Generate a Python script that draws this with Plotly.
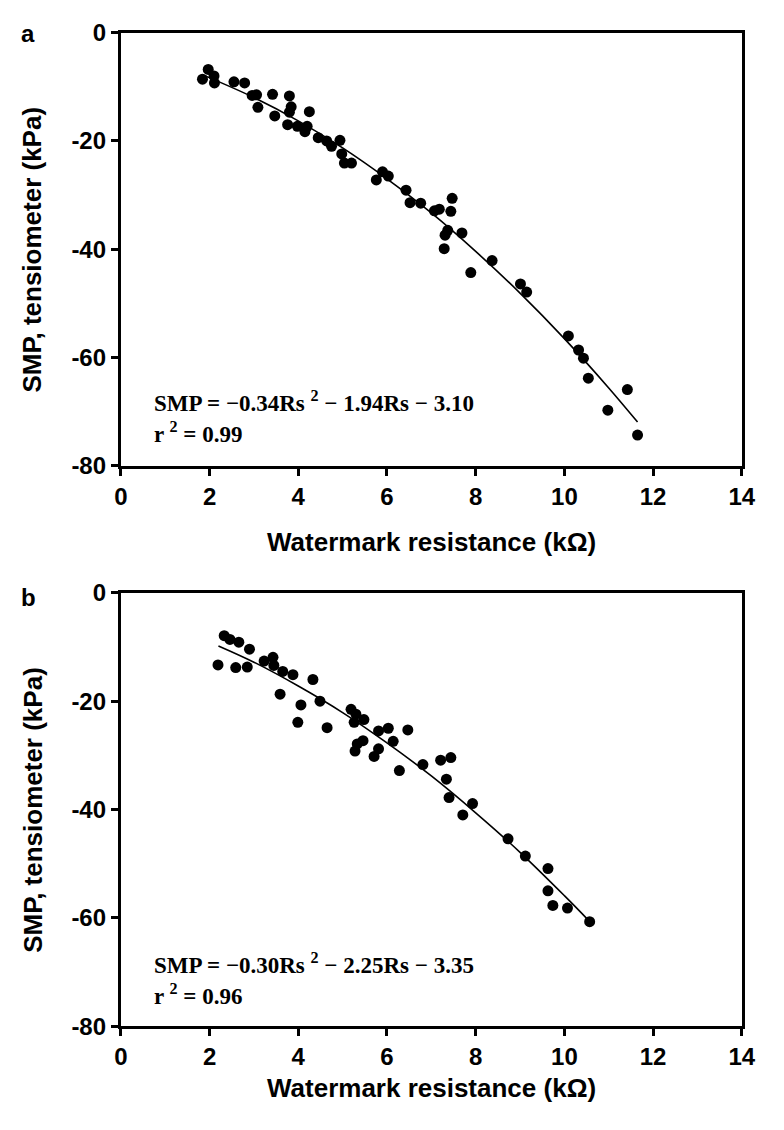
import plotly.graph_objects as go

# ---------------- data ----------------
# Panel a: observed points (Watermark resistance kOhm, SMP kPa)
a_rs = [1.97, 1.84, 2.10, 2.11, 2.55, 2.79, 2.96, 3.06, 3.09, 3.42, 3.47, 3.80, 3.84, 3.80,
        3.76, 4.25, 3.98, 4.20, 4.15, 4.45, 4.64, 4.75, 4.94, 4.98, 5.04, 5.20, 5.76, 5.90,
        6.03, 6.43, 6.52, 6.76, 7.07, 7.18, 7.47, 7.44, 7.37, 7.31, 7.69, 7.29, 7.89, 8.37,
        9.01, 9.15, 10.09, 10.32, 10.43, 10.54, 11.42, 10.98, 11.65]
a_smp = [-6.8, -8.6, -8.0, -9.3, -9.1, -9.3, -11.6, -11.5, -13.8, -11.4, -15.4, -11.7, -13.7, -14.7,
         -17.0, -14.6, -17.3, -17.3, -18.3, -19.4, -20.0, -21.0, -19.9, -22.4, -24.1, -24.1, -27.2, -25.7,
         -26.5, -29.1, -31.4, -31.5, -32.9, -32.6, -30.6, -33.0, -36.5, -37.4, -37.0, -39.9, -44.3, -42.1,
         -46.4, -47.9, -56.0, -58.6, -60.1, -63.8, -65.9, -69.7, -74.3]
# Panel a: fitted curve
a_fit_rs = [1.9, 3, 4, 5, 6, 7, 8, 9, 10, 11, 11.65]
a_fit_smp = [-8.0, -12.0, -16.3, -21.3, -27.0, -33.3, -40.4, -48.1, -56.5, -65.6, -71.9]

# Panel b: observed points
b_rs = [2.33, 2.46, 2.66, 2.90, 2.19, 2.59, 2.85, 3.23, 3.43, 3.45, 3.65, 3.88, 4.33, 3.59,
        4.49, 4.06, 3.99, 4.65, 5.19, 5.30, 5.26, 5.48, 5.81, 6.03, 6.47, 6.14, 5.46, 5.33,
        5.28, 5.81, 5.71, 6.28, 6.81, 7.21, 7.44, 7.34, 7.40, 7.71, 7.93, 8.73, 9.12, 9.63,
        9.63, 9.74, 10.07, 10.57]
b_smp = [-7.9, -8.6, -9.1, -10.4, -13.3, -13.8, -13.7, -12.6, -11.9, -13.4, -14.5, -15.1, -16.0, -18.7,
         -20.0, -20.7, -23.9, -24.9, -21.5, -22.4, -23.9, -23.4, -25.5, -25.0, -25.3, -27.4, -27.3, -27.9,
         -29.2, -28.8, -30.2, -32.8, -31.7, -30.9, -30.4, -34.4, -37.8, -41.0, -38.9, -45.4, -48.6, -50.9,
         -55.0, -57.7, -58.2, -60.7]
b_fit_rs = [2.2, 3, 4, 5, 6, 7, 8, 9, 10, 10.55]
b_fit_smp = [-9.8, -12.8, -17.2, -22.1, -27.7, -33.8, -40.6, -47.9, -55.9, -60.5]

x_ticks = [0, 2, 4, 6, 8, 10, 12, 14]
x_ticktext = ["0", "2", "4", "6", "8", "10", "12", "14"]
y_ticks = [0, -20, -40, -60, -80]
y_ticktext = ["0", "-20", "-40", "-60", "-80"]

panel_labels = ["a", "b"]
eq_lines_a = ["SMP = \u22120.34Rs <sup>2</sup> \u2212 1.94Rs \u2212 3.10", "r <sup>2</sup> = 0.99"]
eq_lines_b = ["SMP = \u22120.30Rs <sup>2</sup> \u2212 2.25Rs \u2212 3.35", "r <sup>2</sup> = 0.96"]
x_title = "Watermark resistance (k\u03a9)"
y_title = "SMP, tensiometer (kPa)"

# ---------------- layout helpers ----------------
W, H = 784, 1130
def px(x):
    return x / W
def py(y):
    return 1 - y / H

SANS = "Liberation Sans, Arial, sans-serif"
SERIF = "Liberation Serif, Times New Roman, serif"

fig = go.Figure()

marker = dict(color="black", size=11, line=dict(width=0))
fitline = dict(color="black", width=1.6, shape="spline")

fig.add_trace(go.Scatter(x=a_rs, y=a_smp, mode="markers", marker=marker, xaxis="x", yaxis="y", showlegend=False))
fig.add_trace(go.Scatter(x=a_fit_rs, y=a_fit_smp, mode="lines", line=fitline, xaxis="x", yaxis="y", showlegend=False))
fig.add_trace(go.Scatter(x=b_rs, y=b_smp, mode="markers", marker=marker, xaxis="x2", yaxis="y2", showlegend=False))
fig.add_trace(go.Scatter(x=b_fit_rs, y=b_fit_smp, mode="lines", line=fitline, xaxis="x2", yaxis="y2", showlegend=False))

tickfont = dict(family=SANS, size=24, color="black", weight="bold")
common_x = dict(range=[0, 14], tickvals=x_ticks, ticktext=x_ticktext, showgrid=False, zeroline=False,
                showline=True, linecolor="black", linewidth=3, mirror=True,
                ticks="outside", ticklen=7, tickwidth=2.5, tickcolor="black", tickfont=tickfont)
common_y = dict(range=[-80, 0], tickvals=y_ticks, ticktext=y_ticktext, showgrid=False, zeroline=False,
                showline=True, linecolor="black", linewidth=3, mirror=True,
                ticks="outside", ticklen=7, tickwidth=2.5, tickcolor="black", tickfont=tickfont)

xdom = [px(117), px(755)]
fig.update_layout(
    width=W, height=H,
    margin=dict(l=0, r=0, t=0, b=0),
    paper_bgcolor="white", plot_bgcolor="white",
    xaxis=dict(domain=xdom, anchor="y", **common_x),
    yaxis=dict(domain=[py(463), py(19)], anchor="x", **common_y),
    xaxis2=dict(domain=xdom, anchor="y2", **common_x),
    yaxis2=dict(domain=[py(1037), py(593)], anchor="x2", **common_y),
)

ann = []
titlefont = dict(family=SANS, size=26, color="black", weight="bold")
# panel labels
for lab, yy in zip(panel_labels, [20, 598]):
    ann.append(dict(text=lab, x=px(12), y=py(yy), xref="paper", yref="paper", xanchor="left", yanchor="middle",
                    showarrow=False, font=dict(family=SANS, size=24, color="black", weight="bold")))
# axis titles
for yy in [541, 1100]:
    ann.append(dict(text=x_title, x=px(436), y=py(yy), xref="paper", yref="paper", xanchor="center", yanchor="middle",
                    showarrow=False, font=titlefont))
for yy in [241, 815]:
    ann.append(dict(text=y_title, x=px(26), y=py(yy), xref="paper", yref="paper", xanchor="center", yanchor="middle",
                    textangle=-90, showarrow=False, font=titlefont))
# equations
eqfont = dict(family=SERIF, size=23, color="black", weight="bold")
for lines, ys in [(eq_lines_a, [397, 429]), (eq_lines_b, [973, 1005])]:
    for t, yy in zip(lines, ys):
        ann.append(dict(text=t, x=px(149), y=py(yy), xref="paper", yref="paper", xanchor="left", yanchor="middle",
                        showarrow=False, font=eqfont))
fig.update_layout(annotations=ann)

fig.write_html("out.html")
